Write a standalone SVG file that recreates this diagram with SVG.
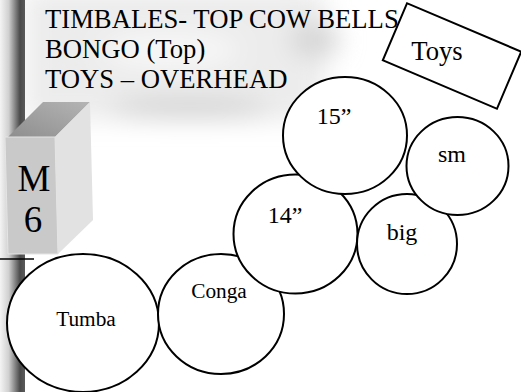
<svg xmlns="http://www.w3.org/2000/svg" width="521" height="392" viewBox="0 0 521 392">
  <defs>
    <linearGradient id="bar" x1="0" y1="0" x2="1" y2="0">
      <stop offset="0" stop-color="#f4f4f4"/>
      <stop offset="0.35" stop-color="#d0d0d0"/>
      <stop offset="0.8" stop-color="#4a4a4a"/>
      <stop offset="1" stop-color="#5a5a5a"/>
    </linearGradient>
    <linearGradient id="topface" x1="0" y1="1" x2="1" y2="0">
      <stop offset="0" stop-color="#8e8e8e"/>
      <stop offset="1" stop-color="#b4b4b4"/>
    </linearGradient>
    <filter id="blur" x="-30%" y="-30%" width="160%" height="160%">
      <feGaussianBlur stdDeviation="12"/>
    </filter>
  </defs>
  <style>
    text { font-family: "Liberation Serif", "DejaVu Serif", serif; fill: #000; }
    .drum { fill: #fff; stroke: #000; stroke-width: 2; }
  </style>
  <rect width="521" height="392" fill="#fff"/>

  <!-- soft gray haze behind the title text -->
  <g filter="url(#blur)">
    <rect x="25" y="-10" width="300" height="130" fill="#ececec"/>
    <ellipse cx="190" cy="108" rx="80" ry="10" fill="#d2d2d2"/>
    <ellipse cx="315" cy="40" rx="25" ry="18" fill="#d6d6d6"/>
    <ellipse cx="170" cy="50" rx="70" ry="20" fill="#f6f6f6"/>
  </g>

  <!-- left bar -->
  <rect x="0" y="0" width="25" height="392" fill="url(#bar)"/>
  <line x1="0" y1="259" x2="34" y2="259" stroke="#000" stroke-width="1.5"/>

  <!-- title text -->
  <g id="title" font-family="Liberation Serif, DejaVu Serif, serif" font-size="26.67">
    <text x="45" y="28">TIMBALES- TOP COW BELLS</text>
    <text x="45" y="58">BONGO (Top)</text>
    <text x="45" y="88">TOYS – OVERHEAD</text>
  </g>

  <!-- M6 box -->
  <g id="m6">
    <polygon points="43,102 90,102 55,137 8,137" fill="url(#topface)"/>
    <polygon points="55,137 90,102 93,220 58,254" fill="#e2e2e2"/>
    <polygon points="5,137 55,137 58,254 8,254" fill="#c9c9c9" stroke="#e4e4e4" stroke-width="1"/>
    <text x="34" y="191" font-family="Liberation Serif, DejaVu Serif, serif" font-size="37" text-anchor="middle">M</text>
    <text x="33" y="232" font-family="Liberation Serif, DejaVu Serif, serif" font-size="37" text-anchor="middle">6</text>
  </g>

  <!-- Toys box -->
  <g id="toys">
    <rect x="-62" y="-31" width="124" height="62" transform="translate(452 56) rotate(23)" fill="#fff" stroke="#000" stroke-width="2"/>
    <text x="437" y="60" font-family="Liberation Serif, DejaVu Serif, serif" font-size="26.67" text-anchor="middle">Toys</text>
  </g>

  <g id="tumba">
    <ellipse class="drum" cx="83" cy="323" rx="76" ry="69"/>
    <text x="86" y="326" font-family="Liberation Serif, DejaVu Serif, serif" font-size="21.33" text-anchor="middle">Tumba</text>
  </g>
  <g id="conga">
    <ellipse class="drum" cx="221" cy="314" rx="63" ry="60"/>
    <text x="219" y="298" font-family="Liberation Serif, DejaVu Serif, serif" font-size="21.33" text-anchor="middle">Conga</text>
  </g>
  <g id="d14">
    <ellipse class="drum" cx="295.5" cy="234" rx="62" ry="59.5"/>
    <text x="285" y="223" font-family="Liberation Serif, DejaVu Serif, serif" font-size="24" text-anchor="middle">14”</text>
  </g>
  <g id="d15">
    <ellipse class="drum" cx="345" cy="135.5" rx="62" ry="58.5"/>
    <text x="334" y="124" font-family="Liberation Serif, DejaVu Serif, serif" font-size="24" text-anchor="middle">15”</text>
  </g>
  <g id="big">
    <ellipse class="drum" cx="407" cy="244" rx="50" ry="50"/>
    <text x="402" y="240" font-family="Liberation Serif, DejaVu Serif, serif" font-size="24" text-anchor="middle">big</text>
  </g>
  <g id="sm">
    <ellipse class="drum" cx="457.5" cy="166" rx="51" ry="49"/>
    <text x="452" y="162" font-family="Liberation Serif, DejaVu Serif, serif" font-size="24" text-anchor="middle">sm</text>
  </g>
  <g id="connectors"/>
</svg>
